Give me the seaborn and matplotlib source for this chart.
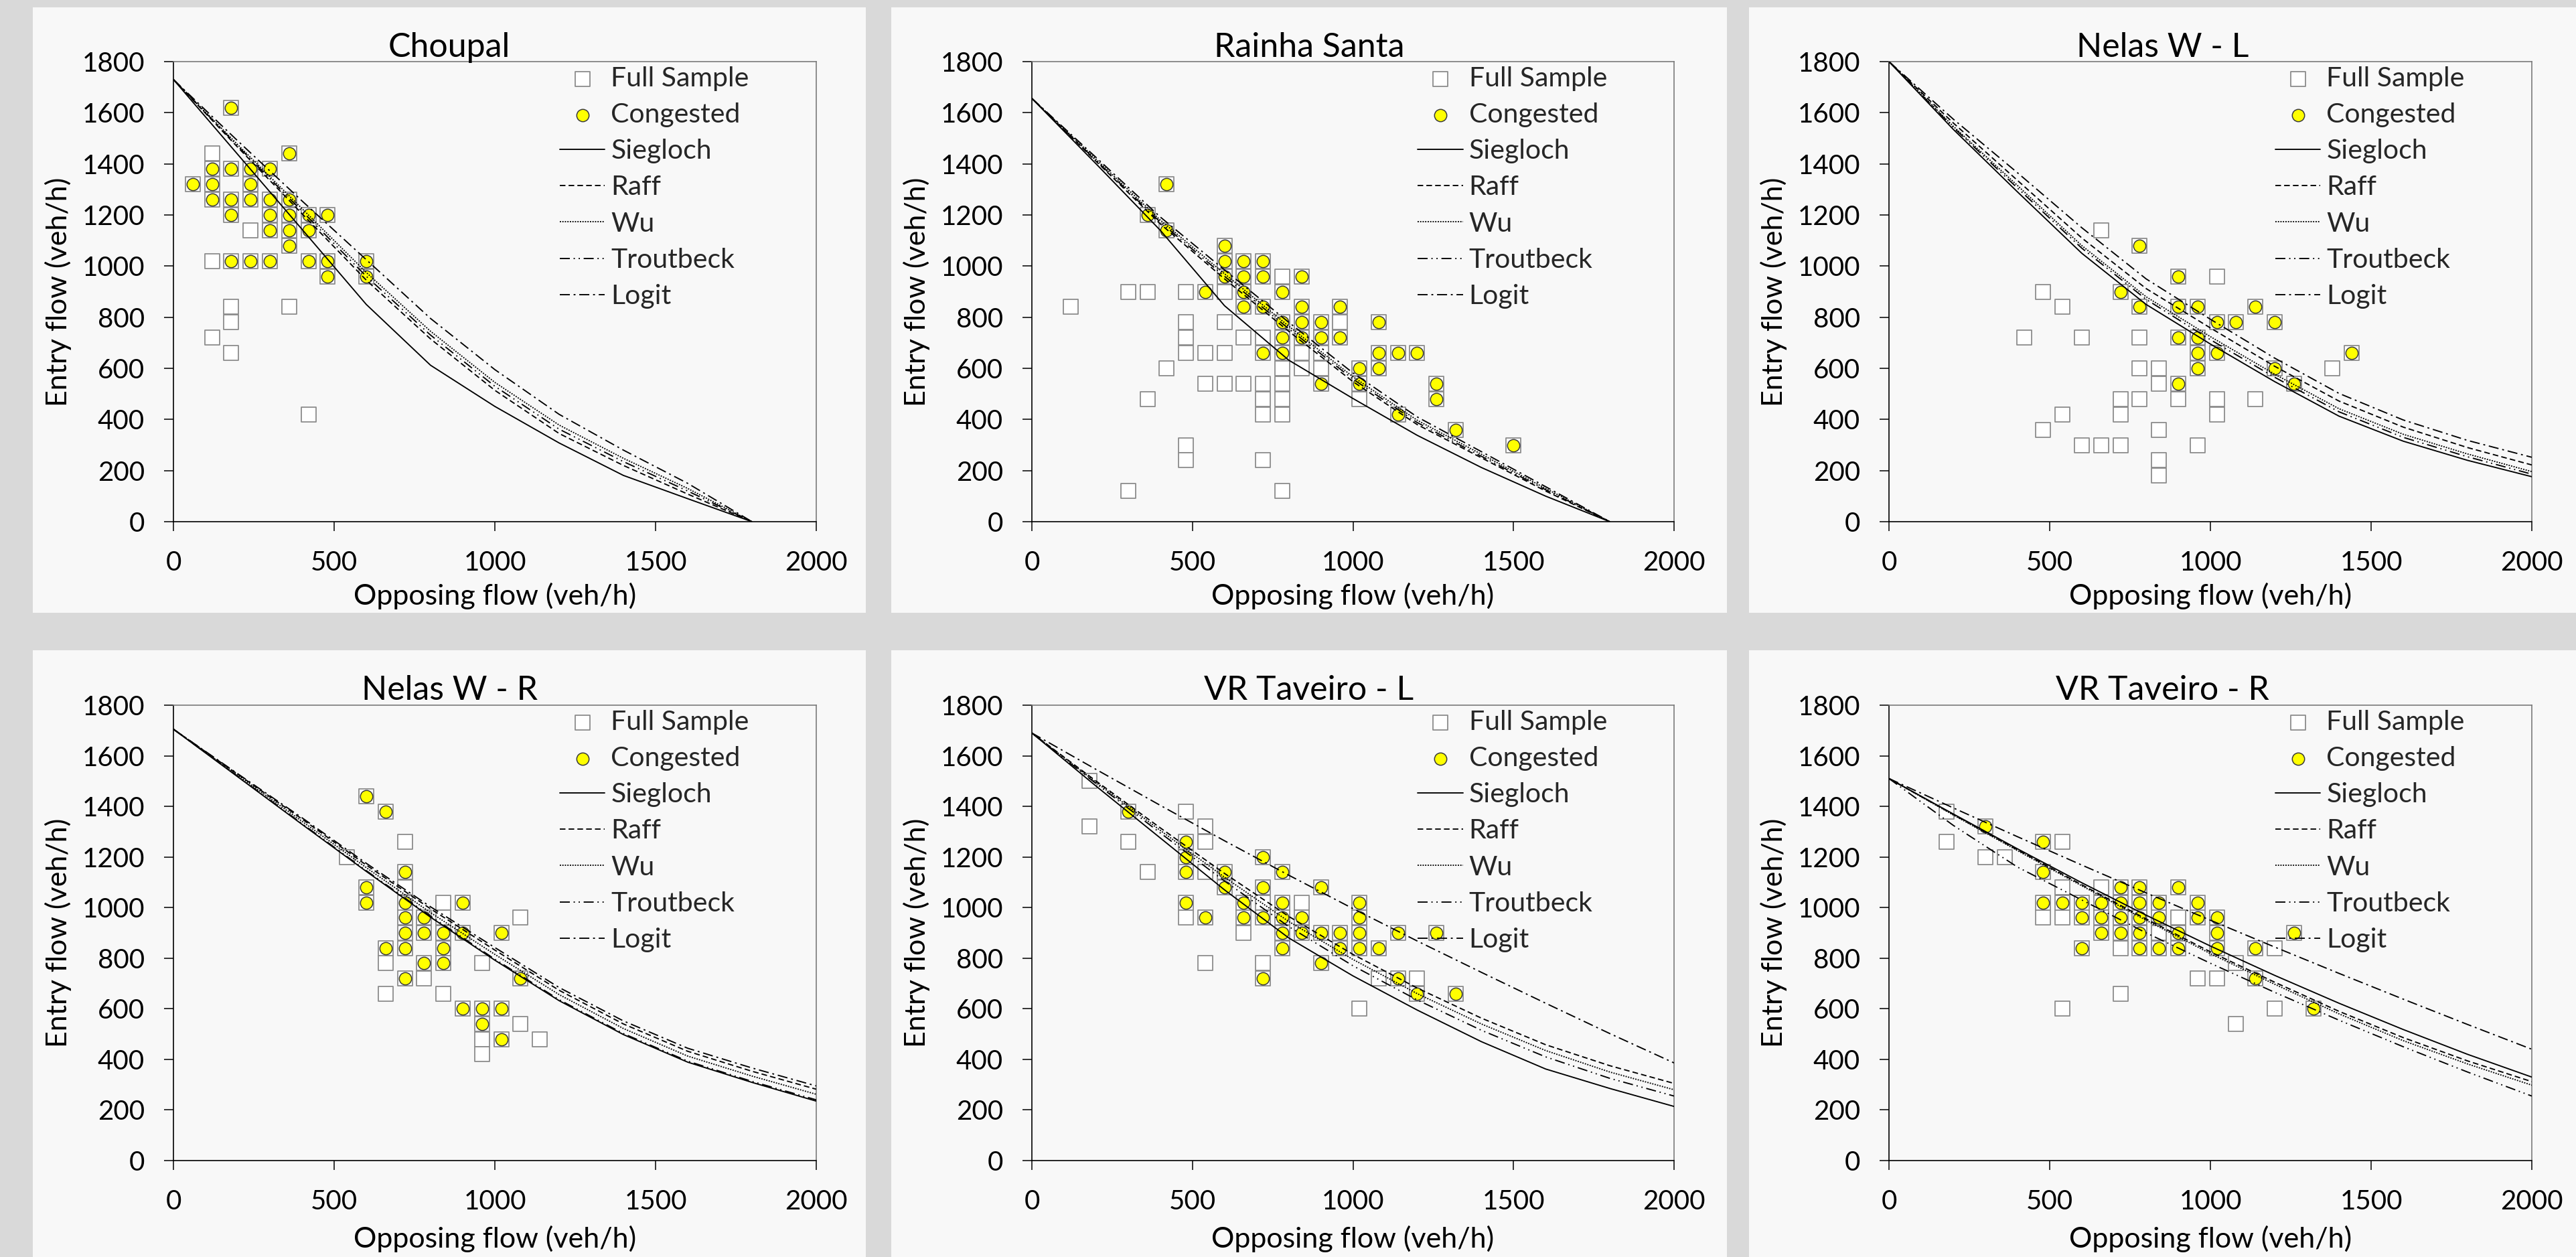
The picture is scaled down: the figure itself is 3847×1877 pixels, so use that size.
import numpy as np
import pandas as pd
import seaborn as sns
import matplotlib.pyplot as plt
from matplotlib.patches import Rectangle

W, H = 3847, 1877

# ---------------- data (opposing flow x, entry flow y, veh/h) ----------------
CURVE_X_1800 = [0, 200, 400, 600, 800, 1000, 1200, 1400, 1600, 1800]
CURVE_X_2000 = [0, 200, 400, 600, 800, 1000, 1200, 1400, 1600, 1800, 2000]

# Choupal
CHOUPAL_CONG_X = [60, 120, 120, 120, 180, 180, 180, 180, 180, 240, 240, 240, 240,
                  300, 300, 300, 300, 300, 360, 360, 360, 360, 360, 420, 420, 420,
                  480, 480, 480, 600, 600]
CHOUPAL_CONG_Y = [1320, 1380, 1320, 1260, 1620, 1380, 1260, 1200, 1020, 1380, 1320, 1260, 1020,
                  1380, 1260, 1200, 1140, 1020, 1440, 1260, 1200, 1140, 1080, 1200, 1140, 1020,
                  1200, 1020, 960, 1020, 960]
CHOUPAL_OTHER_X = [120, 120, 120, 180, 180, 180, 240, 360, 420]
CHOUPAL_OTHER_Y = [1440, 1020, 720, 840, 780, 660, 1140, 840, 420]
CHOUPAL_SIEGLOCH = [1730, 1437, 1144, 850, 612, 451, 308, 181, 90, 0]
CHOUPAL_RAFF = [1730, 1465, 1205, 945, 715, 514, 345, 220, 108, 0]
CHOUPAL_WU = [1730, 1475, 1225, 975, 745, 545, 378, 248, 130, 0]
CHOUPAL_TROUTBECK = [1730, 1470, 1215, 960, 730, 530, 362, 235, 120, 0]
CHOUPAL_LOGIT = [1730, 1490, 1255, 1025, 795, 595, 420, 280, 150, 0]

# Rainha Santa
RAINHA_CONG_X = [360, 420, 420, 540, 600, 600, 600, 660, 660, 660, 660, 720, 720, 720, 720,
                 780, 780, 780, 780, 840, 840, 840, 840, 900, 900, 900, 960, 960, 1020, 1020,
                 1080, 1080, 1080, 1140, 1140, 1200, 1260, 1260, 1320, 1500]
RAINHA_CONG_Y = [1200, 1320, 1140, 900, 1080, 1020, 960, 1020, 960, 900, 840, 1020, 960, 840, 660,
                 900, 780, 720, 660, 960, 840, 780, 720, 780, 720, 540, 840, 720, 600, 540,
                 780, 660, 600, 660, 420, 660, 540, 480, 360, 300]
RAINHA_OTHER_X = [120, 300, 300, 360, 360, 420, 480, 480, 480, 480, 480, 480, 540, 540,
                  600, 600, 600, 600, 660, 660, 720, 720, 720, 720, 720, 780, 780, 780, 780,
                  780, 780, 840, 840, 900, 900, 960, 1020]
RAINHA_OTHER_Y = [840, 900, 120, 900, 480, 600, 900, 780, 720, 660, 300, 240, 660, 540,
                  900, 780, 660, 540, 720, 540, 720, 540, 480, 420, 240, 960, 600, 540, 480,
                  420, 120, 660, 600, 660, 600, 780, 480]
RAINHA_SIEGLOCH = [1656, 1400, 1140, 845, 632, 482, 338, 212, 100, 0]
RAINHA_RAFF = [1656, 1410, 1165, 950, 745, 548, 380, 250, 120, 0]
RAINHA_WU = [1656, 1418, 1180, 970, 765, 567, 397, 264, 130, 0]
RAINHA_TROUTBECK = [1656, 1413, 1172, 960, 755, 558, 388, 256, 125, 0]
RAINHA_LOGIT = [1656, 1425, 1192, 985, 780, 582, 410, 274, 137, 0]

# Nelas W - L
NELAS_L_CONG_X = [720, 780, 780, 900, 900, 900, 900, 960, 960, 960, 960, 1020, 1020,
                  1080, 1140, 1200, 1200, 1260, 1440]
NELAS_L_CONG_Y = [900, 1080, 840, 960, 840, 720, 540, 840, 720, 660, 600, 780, 660,
                  780, 840, 780, 600, 540, 660]
NELAS_L_OTHER_X = [420, 480, 480, 540, 540, 600, 600, 660, 660, 720, 720, 720, 780, 780, 780,
                   840, 840, 840, 840, 840, 900, 960, 1020, 1020, 1020, 1140, 1380]
NELAS_L_OTHER_Y = [720, 900, 360, 840, 420, 720, 300, 1140, 300, 480, 420, 300, 720, 600, 480,
                   600, 540, 360, 240, 180, 480, 300, 960, 480, 420, 480, 600]
NELAS_L_SIEGLOCH = [1800, 1535, 1290, 1050, 850, 695, 548, 413, 315, 240, 176]
NELAS_L_RAFF = [1800, 1560, 1335, 1110, 912, 758, 608, 472, 370, 290, 222]
NELAS_L_WU = [1800, 1547, 1315, 1080, 880, 724, 577, 442, 342, 265, 196]
NELAS_L_TROUTBECK = [1800, 1543, 1305, 1070, 870, 712, 565, 430, 330, 254, 186]
NELAS_L_LOGIT = [1800, 1575, 1365, 1150, 950, 792, 640, 502, 398, 318, 252]

# Nelas W - R
NELAS_R_CONG_X = [600, 600, 600, 660, 660, 720, 720, 720, 720, 720, 720, 780, 780, 780,
                  840, 840, 840, 900, 900, 900, 960, 960, 1020, 1020, 1020, 1080]
NELAS_R_CONG_Y = [1440, 1080, 1020, 1380, 840, 1140, 1020, 960, 900, 840, 720, 960, 900, 780,
                  900, 840, 780, 1020, 900, 600, 600, 540, 900, 600, 480, 720]
NELAS_R_OTHER_X = [540, 660, 660, 720, 720, 780, 840, 840, 840, 960, 960, 960, 1080, 1080, 1140]
NELAS_R_OTHER_Y = [1200, 780, 660, 1260, 1080, 720, 1020, 960, 660, 780, 480, 420, 960, 540, 480]
NELAS_R_SIEGLOCH = [1705, 1517, 1329, 1143, 962, 792, 632, 498, 389, 309, 235]
NELAS_R_RAFF = [1705, 1527, 1350, 1168, 995, 832, 673, 540, 432, 353, 282]
NELAS_R_WU = [1705, 1523, 1341, 1158, 980, 815, 656, 522, 413, 334, 262]
NELAS_R_TROUTBECK = [1705, 1519, 1332, 1146, 966, 796, 636, 502, 393, 313, 240]
NELAS_R_LOGIT = [1705, 1529, 1355, 1175, 1003, 842, 684, 552, 444, 366, 295]

# VR Taveiro - L
TAV_L_CONG_X = [300, 480, 480, 480, 480, 540, 600, 600, 660, 660, 720, 720, 720, 720,
                780, 780, 780, 780, 780, 840, 840, 900, 900, 900, 960, 960,
                1020, 1020, 1020, 1020, 1080, 1140, 1140, 1200, 1260, 1320]
TAV_L_CONG_Y = [1380, 1260, 1200, 1140, 1020, 960, 1140, 1080, 1020, 960, 1200, 1080, 960, 720,
                1140, 1020, 960, 900, 840, 960, 900, 1080, 900, 780, 900, 840,
                1020, 960, 900, 840, 840, 900, 720, 660, 900, 660]
TAV_L_OTHER_X = [180, 180, 300, 360, 480, 480, 540, 540, 540, 540, 660, 720, 720, 840,
                 1020, 1080, 1200]
TAV_L_OTHER_Y = [1500, 1320, 1260, 1140, 1380, 960, 1320, 1260, 1140, 780, 900, 1020, 780, 1020,
                 600, 720, 720]
TAV_L_SIEGLOCH = [1690, 1480, 1275, 1070, 880, 730, 595, 470, 362, 285, 214]
TAV_L_RAFF = [1690, 1500, 1315, 1135, 965, 815, 682, 563, 458, 375, 305]
TAV_L_WU = [1690, 1495, 1305, 1120, 945, 795, 660, 540, 435, 350, 280]
TAV_L_TROUTBECK = [1690, 1490, 1295, 1105, 925, 770, 635, 515, 410, 325, 255]
TAV_L_LOGIT = [1690, 1546, 1404, 1264, 1128, 996, 868, 744, 622, 502, 386]

# VR Taveiro - R
TAV_R_CONG_X = [300, 480, 480, 480, 540, 600, 600, 600, 660, 660, 660, 720, 720, 720, 720,
                780, 780, 780, 780, 780, 840, 840, 840, 900, 900, 900, 960, 960,
                1020, 1020, 1020, 1140, 1140, 1260, 1320]
TAV_R_CONG_Y = [1320, 1260, 1140, 1020, 1020, 1020, 960, 840, 1020, 960, 900, 1080, 1020, 960, 900,
                1080, 1020, 960, 900, 840, 1020, 960, 840, 1080, 900, 840, 1020, 960,
                960, 900, 840, 840, 720, 900, 600]
TAV_R_OTHER_X = [180, 180, 300, 360, 480, 540, 540, 540, 540, 660, 720, 720, 840, 900,
                 960, 1020, 1080, 1080, 1200, 1200]
TAV_R_OTHER_Y = [1380, 1260, 1200, 1200, 960, 1260, 1080, 960, 600, 1080, 840, 660, 900, 960,
                 720, 720, 780, 540, 840, 600]
TAV_R_SIEGLOCH = [1510, 1370, 1232, 1098, 970, 848, 732, 622, 518, 420, 330]
TAV_R_RAFF = [1510, 1368, 1228, 1090, 955, 825, 705, 590, 486, 394, 312]
TAV_R_WU = [1510, 1366, 1225, 1086, 950, 818, 697, 580, 474, 382, 298]
TAV_R_TROUTBECK = [1510, 1325, 1160, 1030, 900, 780, 665, 555, 450, 350, 255]
TAV_R_LOGIT = [1510, 1394, 1280, 1168, 1058, 950, 844, 740, 638, 538, 440]

PANELS = [
    ("Choupal", CHOUPAL_OTHER_X, CHOUPAL_OTHER_Y, CHOUPAL_CONG_X, CHOUPAL_CONG_Y, CURVE_X_1800,
     [CHOUPAL_SIEGLOCH, CHOUPAL_RAFF, CHOUPAL_WU, CHOUPAL_TROUTBECK, CHOUPAL_LOGIT]),
    ("Rainha Santa", RAINHA_OTHER_X, RAINHA_OTHER_Y, RAINHA_CONG_X, RAINHA_CONG_Y, CURVE_X_1800,
     [RAINHA_SIEGLOCH, RAINHA_RAFF, RAINHA_WU, RAINHA_TROUTBECK, RAINHA_LOGIT]),
    ("Nelas W - L", NELAS_L_OTHER_X, NELAS_L_OTHER_Y, NELAS_L_CONG_X, NELAS_L_CONG_Y, CURVE_X_2000,
     [NELAS_L_SIEGLOCH, NELAS_L_RAFF, NELAS_L_WU, NELAS_L_TROUTBECK, NELAS_L_LOGIT]),
    ("Nelas W - R", NELAS_R_OTHER_X, NELAS_R_OTHER_Y, NELAS_R_CONG_X, NELAS_R_CONG_Y, CURVE_X_2000,
     [NELAS_R_SIEGLOCH, NELAS_R_RAFF, NELAS_R_WU, NELAS_R_TROUTBECK, NELAS_R_LOGIT]),
    ("VR Taveiro - L", TAV_L_OTHER_X, TAV_L_OTHER_Y, TAV_L_CONG_X, TAV_L_CONG_Y, CURVE_X_2000,
     [TAV_L_SIEGLOCH, TAV_L_RAFF, TAV_L_WU, TAV_L_TROUTBECK, TAV_L_LOGIT]),
    ("VR Taveiro - R", TAV_R_OTHER_X, TAV_R_OTHER_Y, TAV_R_CONG_X, TAV_R_CONG_Y, CURVE_X_2000,
     [TAV_R_SIEGLOCH, TAV_R_RAFF, TAV_R_WU, TAV_R_TROUTBECK, TAV_R_LOGIT]),
]

MODEL_NAMES = ["Siegloch", "Raff", "Wu", "Troutbeck", "Logit"]
MODEL_STYLES = {
    "Siegloch": "-",
    "Raff": (0, (4.5, 2.5)),
    "Wu": (0, (1, 1)),
    "Troutbeck": (0, (8, 3, 1, 3, 1, 3)),
    "Logit": (0, (8, 3, 1.5, 3)),
}

# ---------------- layout (pixels of the 3847x1877 canvas) ----------------
COL_AXES = [(259, 1219), (1541, 2500), (2821, 3781)]
ROW_AXES = [(92, 779), (1053, 1733)]
COL_PANEL = [(49, 1293), (1331, 2579), (2612, 3847)]
ROW_PANEL = [(11, 915), (971, 1877)]
TITLE_BASE = [85, 1045]
XLABEL_BASE = [903, 1863]

sns.set_theme(style="white")
plt.rcParams["font.family"] = ["Lato", "DejaVu Sans"]

BG = "#d9d9d9"
PANEL_BG = "#f8f8f8"

fig = plt.figure(figsize=(W / 100, H / 100), dpi=100)
fig.patch.set_facecolor(BG)


def fx(px):
    return px / W


def fy(py):
    return 1 - py / H


for i, (title, ox, oy, cx, cy, curve_x, curves) in enumerate(PANELS):
    r, c = divmod(i, 3)
    pl, pr = COL_PANEL[c]
    pt, pb = ROW_PANEL[r]
    fig.patches.append(Rectangle((fx(pl), fy(pb)), fx(pr - pl), (pb - pt) / H,
                                 transform=fig.transFigure, facecolor=PANEL_BG,
                                 edgecolor="none", zorder=-5))
    al, ar = COL_AXES[c]
    at, ab = ROW_AXES[r]
    ax = fig.add_axes([fx(al), fy(ab), fx(ar - al), (ab - at) / H])
    ax.set_facecolor(PANEL_BG)

    full = pd.DataFrame({"x": list(ox) + list(cx), "y": list(oy) + list(cy)})
    cong = pd.DataFrame({"x": cx, "y": cy})
    sns.scatterplot(data=full, x="x", y="y", ax=ax, marker="s", s=230, color="white",
                    edgecolor="#8c8c8c", linewidth=1.3, label="Full Sample", zorder=2)
    sns.scatterplot(data=cong, x="x", y="y", ax=ax, marker="o", s=175, color="#ffff00",
                    edgecolor="#3a3a3a", linewidth=1.1, label="Congested", zorder=3)
    for name, vals in zip(MODEL_NAMES, curves):
        sns.lineplot(x=curve_x, y=vals, ax=ax, color="black", linewidth=1.35,
                     linestyle=MODEL_STYLES[name], label=name, sort=False,
                     estimator=None, errorbar=None, zorder=4)

    ax.set_xlim(0, 2000)
    ax.set_ylim(0, 1800)
    ax.set_xticks(range(0, 2001, 500))
    ax.set_yticks(range(0, 1801, 200))
    ax.set_xlabel("")
    ax.set_ylabel("")
    ax.tick_params(axis="both", direction="out", length=10, width=1.1, color="black",
                   labelsize=29, labelcolor="black", bottom=True, left=True)
    ax.tick_params(axis="x", pad=21)
    ax.tick_params(axis="y", pad=21)
    for side in ["left", "bottom"]:
        ax.spines[side].set_color("black")
        ax.spines[side].set_linewidth(1.2)
    for side in ["top", "right"]:
        ax.spines[side].set_color("#7a7a7a")
        ax.spines[side].set_linewidth(1.2)

    handles, labels = ax.get_legend_handles_labels()
    order = ["Full Sample", "Congested"] + MODEL_NAMES
    hmap = dict(zip(labels, handles))
    ax.legend([hmap[k] for k in order], order, loc="upper left", bbox_to_anchor=(0.601, 0.99),
              frameon=False, fontsize=29.5, borderpad=0, borderaxespad=0, handlelength=1.64,
              handletextpad=0.22, labelspacing=0.42, scatterpoints=1)

    fig.text(fx((pl + pr) / 2), fy(TITLE_BASE[r]), title, ha="center", va="baseline",
             fontsize=36, color="black")
    fig.text(fx((al + ar) / 2), fy(XLABEL_BASE[r]), "Opposing flow (veh/h)", ha="center",
             va="baseline", fontsize=31, color="black")
    fig.text(fx(al - 172), fy((at + ab) / 2), "Entry flow (veh/h)", ha="center", va="center",
             rotation=90, fontsize=31, color="black")

fig.savefig("out.png", dpi=100, facecolor=BG)
